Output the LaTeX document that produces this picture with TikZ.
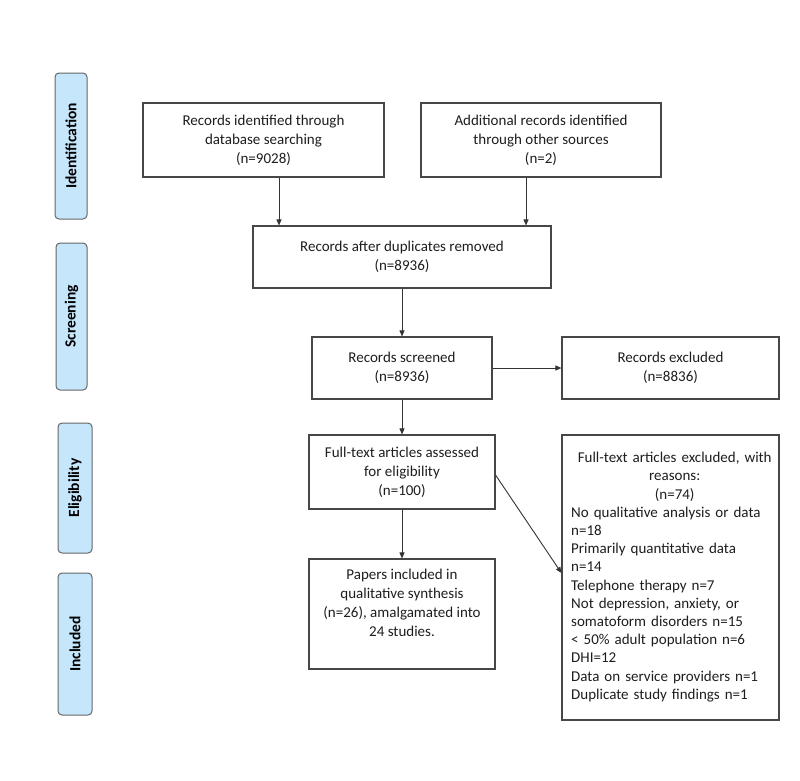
\documentclass[tikz,border=0pt]{standalone}
\usepackage{fontspec}
\setmainfont{Carlito}
\usetikzlibrary{arrows.meta}
\definecolor{phase}{RGB}{198,231,251}
\definecolor{txt}{RGB}{30,30,30}
\begin{document}
\begin{tikzpicture}[x=1pt,y=-1pt,
  box/.style={draw=black!72,line width=1.1pt,fill=white,inner sep=2pt,align=center,
    text=txt,font=\fontsize{15}{19}\selectfont},
  phasebox/.style={draw=black!60,line width=1pt,fill=phase,rounded corners=4pt,rotate=90,
    font=\fontsize{15.5}{17}\selectfont\bfseries,text=black,inner sep=0pt},
  plain/.style={inner sep=0pt,text=txt,font=\fontsize{15}{19}\selectfont},
  arr/.style={draw=black!80,line width=0.9pt,-{Triangle[length=6pt,width=5pt]}}]
\useasboundingbox (0,0) rectangle (800,780);
% phase labels
\node[phasebox,minimum width=146pt,minimum height=32pt] (pid) at (71,146) {Identification};
\node[phasebox,minimum width=147pt,minimum height=31pt] (psc) at (71.5,316.5) {Screening};
\node[phasebox,minimum width=130pt,minimum height=34pt] (pel) at (75,488) {Eligibility};
\node[phasebox,minimum width=142pt,minimum height=34pt] (pin) at (75,644) {Included};
% boxes
\node[box,minimum width=241pt,minimum height=74pt] (b1) at (263.5,140)
  {Records identified through\\database searching\\(n=9028)};
\node[box,minimum width=240pt,minimum height=74pt] (b2) at (541,140)
  {Additional records identified\\through other sources\\(n=2)};
\node[box,minimum width=298pt,minimum height=62pt] (dup) at (402,257)
  {Records after duplicates removed\\(n=8936)};
\node[box,minimum width=180pt,minimum height=62pt] (scr) at (402,368)
  {Records screened\\(n=8936)};
\node[box,minimum width=217pt,minimum height=62pt] (exc) at (670.5,368)
  {Records excluded\\(n=8836)};
\node[box,minimum width=186pt,minimum height=74pt] (ft) at (402,472)
  {Full-text articles assessed\\for eligibility\\(n=100)};
\node[box,minimum width=186pt,minimum height=110pt] (pap) at (402,614) {};
\node[plain,anchor=north,align=center] (paptext) at (402,569)
  {Papers included in\\qualitative synthesis\\(n=26), amalgamated into\\24 studies.};
\node[box,minimum width=217pt,minimum height=285pt] (rea) at (670.5,577.5) {};
\node[plain,anchor=north west,text width=207pt,align=left,
  font=\fontsize{15}{18.2}\selectfont] (reatext) at (571,452)
  {\makebox[\linewidth][c]{Full-text articles excluded, with}\\
   \makebox[\linewidth][c]{reasons:}\\
   \makebox[\linewidth][c]{(n=74)}\\
   No qualitative analysis or data\\
   n=18\\
   Primarily quantitative data\\
   n=14\\
   Telephone therapy n=7\\
   Not depression, anxiety, or\\
   somatoform disorders n=15\\
   < 50\% adult population n=6\\
   DHI=12\\
   Data on service providers n=1\\
   Duplicate study findings n=1};
% connectors
\draw[arr] ([xshift=15.5pt]b1.south) -- ([xshift=15.5pt]b1.south |- dup.north);
\draw[arr] ([xshift=-15pt]b2.south) -- ([xshift=-15pt]b2.south |- dup.north);
\draw[arr] (dup.south) -- (scr.north);
\draw[arr] (scr.east) -- (exc.west);
\draw[arr] (scr.south) -- (ft.north);
\draw[arr] (ft.south) -- (pap.north);
\draw[arr] ([yshift=-3pt]ft.east) -- ([yshift=4.5pt]rea.west);
\end{tikzpicture}
\end{document}
